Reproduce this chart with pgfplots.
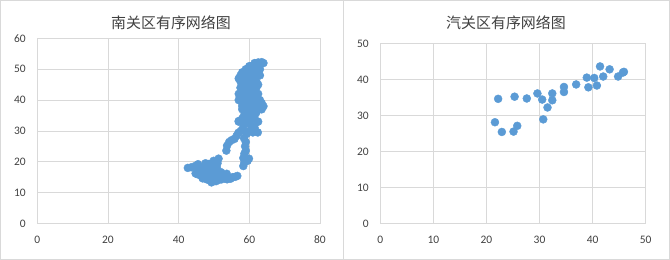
\documentclass[border=0pt]{standalone}
\usepackage{pgfplots}
\pgfplotsset{compat=1.18}
\usepackage{fontspec}
\setmainfont{Carlito}
\newfontfamily\cjk{Noto Sans CJK SC}
\definecolor{dot}{HTML}{5B9BD5}
\definecolor{gridc}{HTML}{D9D9D9}
\definecolor{txt}{HTML}{404040}
\begin{document}
\begin{tikzpicture}
\path (0bp,0bp) rectangle (670bp,259bp);
\draw[gridc, line width=0.8bp] (0.4bp,0.4bp) rectangle (669.6bp,258.6bp);
\draw[gridc, line width=0.8bp] (343bp,0bp) -- (343bp,259bp);
\pgfplotsset{myax/.style={scale only axis, anchor=south west,
  grid=major, major grid style={gridc, line width=0.75bp},
  axis line style={gridc, line width=0.75bp},
  tick style={draw=none},
  ticklabel style={font=\fontsize{11.5}{12}\selectfont, text=txt},
  /pgf/number format/assume math mode=true,
  xticklabel style={yshift=-9bp},
  yticklabel style={xshift=-8bp},
  clip=false}}
\begin{axis}[myax, at={(37.3bp,36bp)}, width=282.7bp, height=185bp,
  xmin=0, xmax=80, ymin=0, ymax=60, xtick={0,20,...,80}, ytick={0,10,...,60}]
\addplot[only marks, mark=*, mark size=4bp, mark options={fill=dot, draw=dot}] table {
x y
42.6 18.0
43.6 18.2
44.8 18.7
45.5 19.2
44.8 16.2
45.6 17.3
46.2 15.5
46.4 16.9
46.8 14.6
47.1 18.2
47.3 16.1
47.6 19.5
47.9 14.3
48.1 17.2
48.3 15.5
48.6 19.3
48.8 13.9
49.0 16.5
49.3 13.3
49.5 18.2
49.9 20.3
50.1 14.5
50.2 16.0
50.5 17.6
50.6 13.7
51.0 19.5
51.3 21.0
51.1 15.3
51.6 14.2
52.0 16.6
52.6 15.3
53.1 14.6
53.6 16.1
54.1 14.6
54.7 14.5
55.3 15.0
56.0 15.1
56.6 15.4
47.0 15.2
46.0 17.8
49.1 15.0
50.2 19.0
48.0 18.6
52.2 14.3
53.7 14.3
45.2 16.0
50.8 18.2
58.3 18.6
58.6 19.8
58.3 21.2
58.6 22.6
59.5 20.3
59.9 21.0
59.0 23.6
58.8 25.0
59.0 26.4
58.5 27.6
53.5 23.6
53.7 25.2
54.3 26.4
55.0 27.0
55.8 27.4
56.4 28.4
56.9 29.4
57.6 30.0
58.2 31.0
57.0 33.2
58.8 32.3
59.5 33.6
60.0 30.0
61.0 29.5
62.4 29.5
61.5 31.0
62.3 33.0
60.5 31.8
59.2 29.0
61.5 52.0
62.5 52.2
63.5 52.3
64.0 52.0
60.0 51.0
61.0 51.2
62.5 51.0
59.0 50.0
60.5 50.2
62.0 50.0
63.0 50.0
58.0 49.0
59.5 49.2
61.0 49.0
62.5 49.0
57.5 48.0
59.0 48.0
60.5 48.2
62.0 48.0
63.0 48.0
57.0 47.0
58.5 47.0
60.0 47.0
61.5 47.0
57.5 46.0
59.0 46.0
60.5 46.0
62.0 46.0
58.0 45.0
59.5 45.0
61.0 45.0
62.5 45.0
57.5 44.0
59.0 44.0
60.5 44.0
62.0 44.0
58.0 43.0
59.5 43.0
61.0 43.0
57.0 42.0
58.5 42.0
60.0 42.0
61.5 42.0
62.5 42.0
57.5 41.0
59.0 41.0
60.5 41.0
62.0 41.0
57.0 40.0
58.5 40.0
60.0 40.0
61.5 40.0
63.0 40.0
58.0 39.0
59.5 39.0
61.0 39.0
62.5 39.0
63.5 39.0
58.0 38.0
59.5 38.0
61.0 38.0
63.0 38.0
64.0 38.0
58.0 37.0
60.0 37.0
61.5 37.0
62.5 37.0
63.5 37.0
59.0 36.0
60.5 36.0
62.0 36.0
58.5 35.0
60.0 35.0
61.5 35.0
58.0 34.0
59.5 34.0
61.0 34.0
57.0 33.0
59.0 33.0
62.5 33.0
};
\end{axis}
\begin{axis}[myax, at={(380.3bp,36bp)}, width=265.4bp, height=180bp,
  xmin=0, xmax=50, ymin=0, ymax=50, xtick={0,10,...,50}, ytick={0,10,...,50}]
\addplot[only marks, mark=*, mark size=4bp, mark options={fill=dot, draw=dot}] table {
x y
21.6 28.1
22.2 34.6
22.9 25.4
25.1 25.5
25.3 35.2
25.8 27.1
27.6 34.7
29.6 36.1
30.5 34.4
30.7 28.9
31.5 32.2
32.4 36.1
32.4 34.2
34.6 37.9
34.6 36.5
36.9 38.6
38.9 40.5
39.2 37.8
40.3 40.4
40.8 38.3
41.4 43.6
42.0 40.8
43.2 42.8
44.8 40.8
45.7 41.9
45.9 42.1
};
\end{axis}
\node[font=\cjk\fontsize{15}{16}\selectfont, text=txt] at (171bp,237bp) {南关区有序网络图};
\node[font=\cjk\fontsize{15}{16}\selectfont, text=txt] at (506bp,237bp) {汽关区有序网络图};
\end{tikzpicture}
\end{document}
